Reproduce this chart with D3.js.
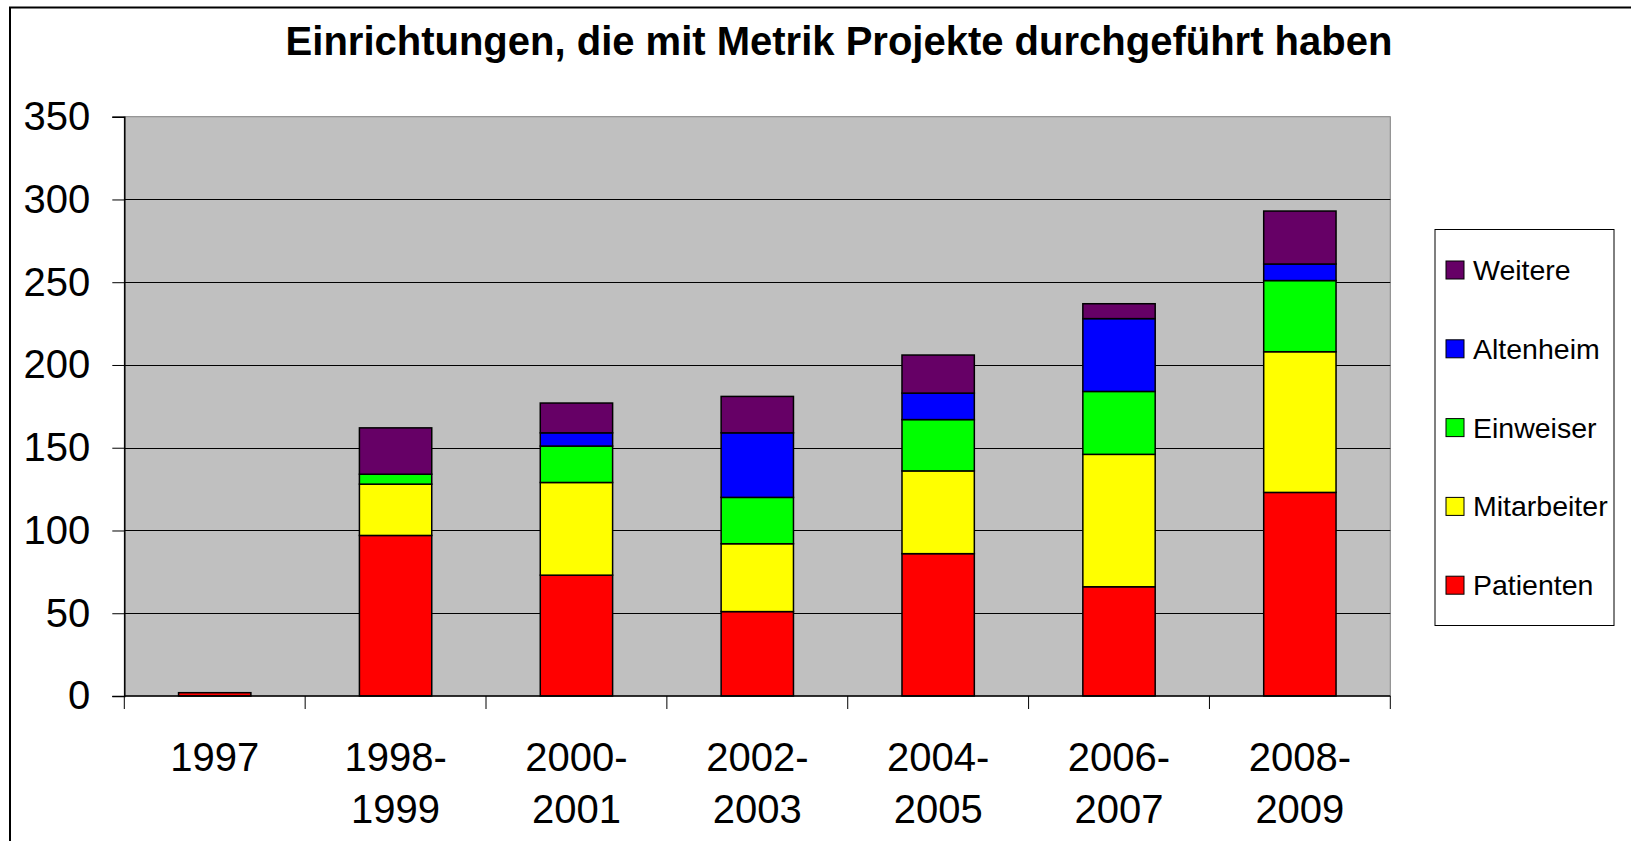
<!DOCTYPE html>
<html>
<head>
<meta charset="utf-8">
<script src="https://cdn.jsdelivr.net/npm/d3@7"></script>
<style>
  body { margin: 0; background: #fff; }
  svg { display: block; font-family: "Liberation Sans", Arial, sans-serif; }
</style>
</head>
<body>
<svg id="chart" width="1631" height="841"></svg>
<script>
// data
var categories = ["1997", "1998-1999", "2000-2001", "2002-2003", "2004-2005", "2006-2007", "2008-2009"];
var seriesNames = ["Patienten", "Mitarbeiter", "Einweiser", "Altenheim", "Weitere"];
var seriesColors = ["#ff0000", "#ffff00", "#00ff00", "#0000ff", "#660066"];
var patienten = [2, 97, 73, 51, 86, 66, 123];
var mitarbeiter = [0, 31, 56, 41, 50, 80, 85];
var einweiser = [0, 6, 22, 28, 31, 38, 43];
var altenheim = [0, 0, 8, 39, 16, 44, 10];
var weitere = [0, 28, 18, 22, 23, 9, 32];
var yTicks = [0, 50, 100, 150, 200, 250, 300, 350];
var title = "Einrichtungen, die mit Metrik Projekte durchgeführt haben";

var svg = d3.select("#chart");

var margin = {left: 124.3, right: 1390.3, top: 116.7, bottom: 696};

// build rows for the stack
var table = categories.map(function(c, i) {
    return {
        cat: c,
        Patienten: patienten[i],
        Mitarbeiter: mitarbeiter[i],
        Einweiser: einweiser[i],
        Altenheim: altenheim[i],
        Weitere: weitere[i]
    };
});
var stacked = d3.stack().keys(seriesNames)(table);

var x = d3.scaleBand()
    .domain(categories)
    .range([margin.left, margin.right])
    .paddingInner(0.6)
    .paddingOuter(0.3);

var y = d3.scaleLinear()
    .domain([0, 350])
    .range([margin.bottom, margin.top]);

var color = d3.scaleOrdinal().domain(seriesNames).range(seriesColors);

// outer frame
svg.append("rect")
    .attr("x", 10).attr("y", 7.5)
    .attr("width", 1700).attr("height", 900)
    .attr("fill", "none")
    .attr("stroke", "#000")
    .attr("stroke-width", 2);

// title
svg.append("text")
    .attr("x", 839)
    .attr("y", 55)
    .attr("text-anchor", "middle")
    .attr("font-size", 40)
    .attr("font-weight", "bold")
    .text(title);

// plot area
svg.append("rect")
    .attr("x", margin.left).attr("y", margin.top)
    .attr("width", margin.right - margin.left)
    .attr("height", margin.bottom - margin.top)
    .attr("fill", "#c0c0c0")
    .attr("stroke", "#808080")
    .attr("stroke-width", 1);

// gridlines
svg.append("g")
    .selectAll("line")
    .data(yTicks.filter(function(d) { return d > 0 && d < 350; }))
    .enter().append("line")
    .attr("x1", margin.left).attr("x2", margin.right)
    .attr("y1", function(d) { return Math.round(y(d)) + 0.5; })
    .attr("y2", function(d) { return Math.round(y(d)) + 0.5; })
    .attr("stroke", "#000")
    .attr("stroke-width", 1);

// y axis
var yAxis = d3.axisLeft(y)
    .tickValues(yTicks)
    .tickSize(12)
    .tickPadding(22)
    .tickFormat(d3.format("d"));

var gy = svg.append("g")
    .attr("transform", "translate(" + margin.left + ",0)")
    .call(yAxis);
gy.select(".domain").attr("stroke", "#000").attr("stroke-width", 1.5);
gy.selectAll(".tick line").attr("stroke", "#000");
gy.selectAll("text")
    .attr("font-size", 40)
    .attr("fill", "#000")
    .attr("font-family", "Liberation Sans, Arial, sans-serif");

// bars
svg.append("g")
    .selectAll("g")
    .data(stacked)
    .enter().append("g")
    .attr("fill", function(d) { return color(d.key); })
    .selectAll("rect")
    .data(function(d) { return d.filter(function(s) { return s[1] - s[0] > 0; }); })
    .enter().append("rect")
    .attr("x", function(d) { return x(d.data.cat); })
    .attr("y", function(d) { return y(d[1]); })
    .attr("width", x.bandwidth())
    .attr("height", function(d) { return y(d[0]) - y(d[1]); })
    .attr("stroke", "#000")
    .attr("stroke-width", 1.5);

// x axis line, ticks between categories and labels
svg.append("line")
    .attr("x1", margin.left).attr("x2", margin.right)
    .attr("y1", margin.bottom).attr("y2", margin.bottom)
    .attr("stroke", "#000")
    .attr("stroke-width", 1.5);

var boundaries = d3.range(categories.length + 1).map(function(i) {
    return x.range()[0] + i * x.step();
});
svg.append("g")
    .selectAll("line")
    .data(boundaries)
    .enter().append("line")
    .attr("x1", function(d) { return d; })
    .attr("x2", function(d) { return d; })
    .attr("y1", margin.bottom)
    .attr("y2", margin.bottom + 13)
    .attr("stroke", "#000")
    .attr("stroke-width", 1);

var xLabels = svg.append("g")
    .selectAll("text")
    .data(categories)
    .enter().append("text")
    .attr("x", function(d) { return x(d) + x.bandwidth() / 2; })
    .attr("y", 771)
    .attr("text-anchor", "middle")
    .attr("font-size", 40);

xLabels.each(function(d) {
    var parts = d.split("-");
    var t = d3.select(this);
    if (parts.length === 1) {
        t.text(d);
    } else {
        t.append("tspan")
            .attr("x", x(d) + x.bandwidth() / 2)
            .text(parts[0] + "-");
        t.append("tspan")
            .attr("x", x(d) + x.bandwidth() / 2)
            .attr("dy", 52)
            .text(parts[1]);
    }
});

// legend
var legend = svg.append("g");
legend.append("rect")
    .attr("x", 1435).attr("y", 229.5)
    .attr("width", 179).attr("height", 396)
    .attr("fill", "#fff")
    .attr("stroke", "#000")
    .attr("stroke-width", 1);

var legendOrder = seriesNames.slice().reverse();
var items = legend.selectAll("g.item")
    .data(legendOrder)
    .enter().append("g")
    .attr("class", "item")
    .attr("transform", function(d, i) { return "translate(0," + (270 + i * 78.8) + ")"; });

items.append("rect")
    .attr("x", 1446).attr("y", -9)
    .attr("width", 18).attr("height", 18)
    .attr("fill", function(d) { return color(d); })
    .attr("stroke", "#000")
    .attr("stroke-width", 1);

items.append("text")
    .attr("x", 1473)
    .attr("y", 10)
    .attr("font-size", 28.5)
    .text(function(d) { return d; });
</script>
</body>
</html>
